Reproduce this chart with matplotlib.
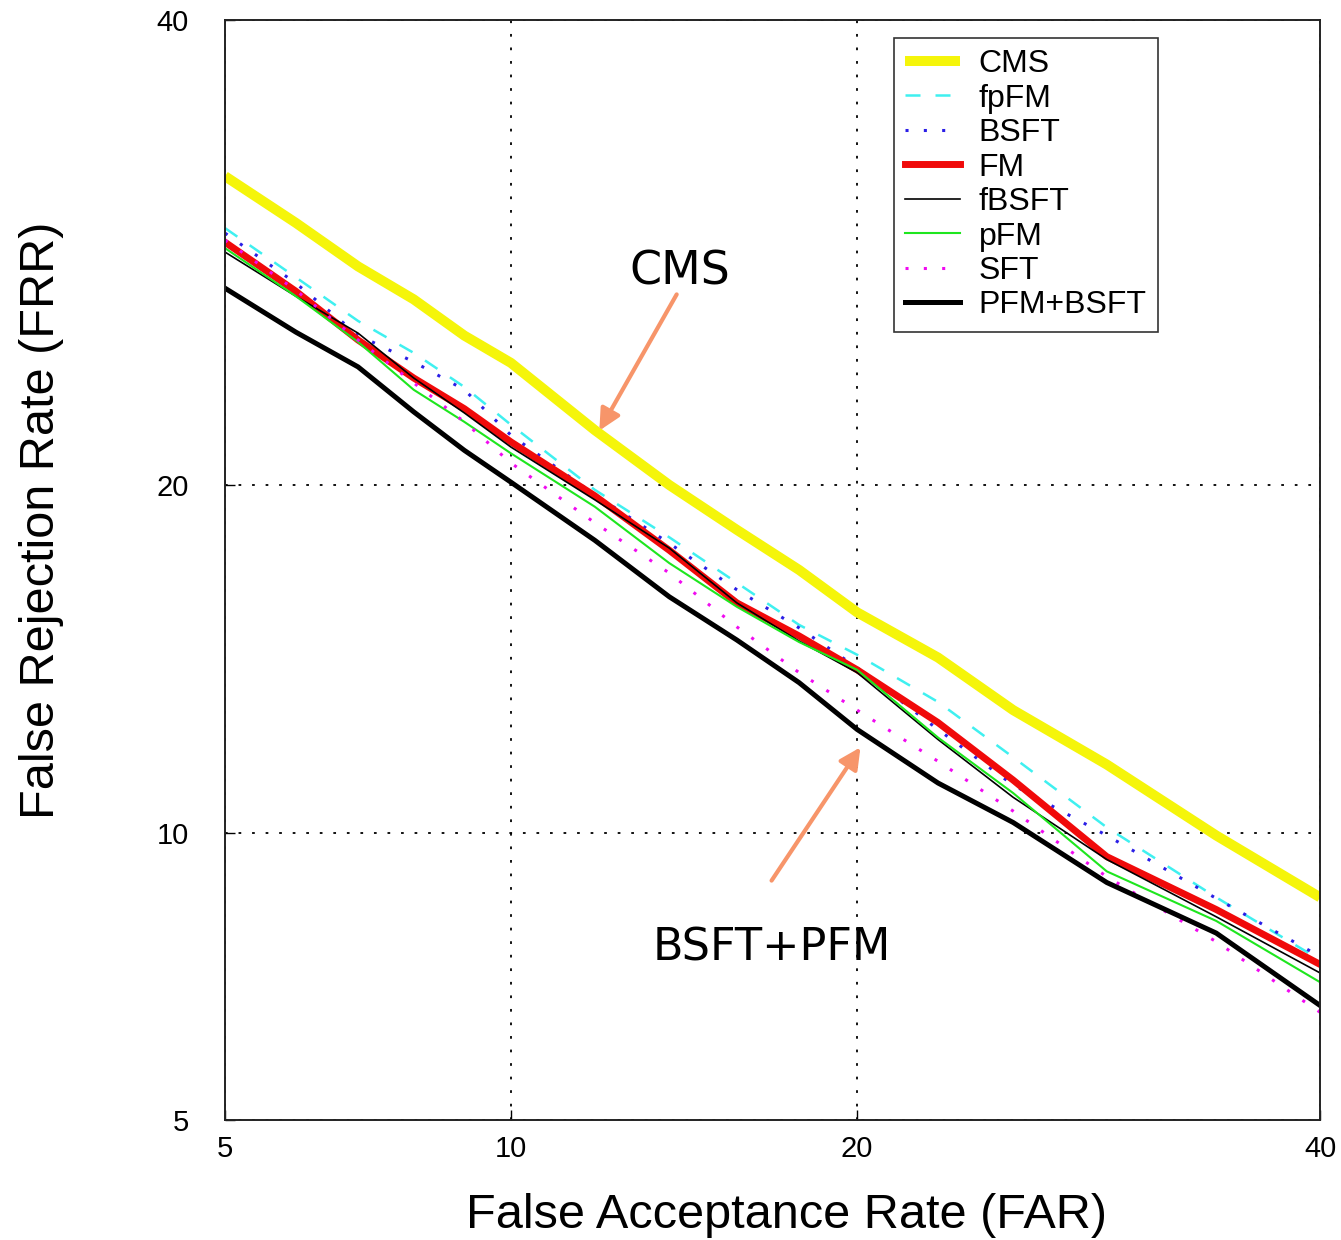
import math
import numpy as np
import matplotlib
matplotlib.use("Agg")
import matplotlib.pyplot as plt
from matplotlib.ticker import FixedLocator, NullLocator

# DET curves, values in percent
far = [5, 6, 7, 8, 9, 10, 12, 14, 16, 18, 20, 23, 26, 30, 35, 40]

cms      = [32.6, 30.5, 28.6, 27.2, 25.7, 24.6, 22.0, 20.0, 18.45, 17.13, 15.8, 14.46, 13.0, 11.6, 9.94, 8.64]
fpfm     = [30.27, 28.13, 26.3, 25.0, 23.65, 22.2, 19.83, 18.2, 16.72, 15.42, 14.54, 13.22, 11.78, 10.12, 8.64, 7.46]
bsft     = [30.05, 27.88, 25.72, 24.64, 23.54, 21.81, 19.66, 18.0, 16.5, 15.33, 14.17, 12.49, 11.1, 9.94, 8.62, 7.52]
fm       = [29.65, 27.54, 25.52, 24.0, 22.81, 21.56, 19.62, 17.77, 16.09, 15.09, 14.11, 12.67, 11.22, 9.48, 8.4, 7.38]
fbsft    = [29.22, 27.33, 25.8, 24.0, 22.65, 21.37, 19.48, 17.84, 16.09, 14.94, 14.03, 12.23, 10.81, 9.42, 8.26, 7.23]
pfm      = [29.39, 27.33, 25.44, 23.54, 22.31, 21.14, 19.24, 17.35, 15.97, 14.91, 14.11, 12.28, 10.91, 9.17, 8.18, 7.07]
sft      = [29.74, 27.58, 25.52, 23.81, 22.31, 20.79, 18.69, 17.03, 15.36, 14.03, 13.0, 11.68, 10.49, 9.06, 7.79, 6.57]
pfm_bsft = [27.67, 25.84, 24.44, 22.69, 21.25, 20.1, 18.1, 16.28, 14.97, 13.75, 12.49, 11.15, 10.23, 8.94, 7.95, 6.68]

ticks = [5, 10, 20, 40]
tick_labels = ["5", "10", "20", "40"]


# normal-deviate (probit) axis, as in a DET plot
A = [-3.969683028665376e+01, 2.209460984245205e+02, -2.759285104469687e+02,
     1.383577518672690e+02, -3.066479806614716e+01, 2.506628277459239e+00]
B = [-5.447609879822406e+01, 1.615858368580409e+02, -1.556989798598866e+02,
     6.680131188771972e+01, -1.328068155288572e+01]
C = [-7.784894002430293e-03, -3.223964580411365e-01, -2.400758277161838e+00,
     -2.549671010258739e+00, 4.374664141464968e+00, 2.938163982698783e+00]
D = [7.784695709041462e-03, 3.224671290700398e-01, 2.445134137142996e+00,
     3.754408661907416e+00]


def _tail(q):
    num = ((((C[0]*q + C[1])*q + C[2])*q + C[3])*q + C[4])*q + C[5]
    den = (((D[0]*q + D[1])*q + D[2])*q + D[3])*q + 1
    return num / den


def probit(pct):
    p = np.clip(np.asarray(pct, dtype=float) / 100.0, 1e-12, 1 - 1e-12)
    q = p - 0.5
    r = q * q
    mid = (((((A[0]*r + A[1])*r + A[2])*r + A[3])*r + A[4])*r + A[5]) * q / \
          (((((B[0]*r + B[1])*r + B[2])*r + B[3])*r + B[4])*r + 1)
    lo = _tail(np.sqrt(-2 * np.log(p)))
    hi = -_tail(np.sqrt(-2 * np.log(1 - p)))
    return np.where(p < 0.02425, lo, np.where(p > 1 - 0.02425, hi, mid))


_erf = np.vectorize(math.erf)


def inv_probit(z):
    z = np.asarray(z, dtype=float)
    return 50.0 * (1 + _erf(z / math.sqrt(2)))


plt.rcParams["font.family"] = ["Liberation Sans", "DejaVu Sans"]

fig = plt.figure(figsize=(13.41, 12.40), dpi=100)
ax = fig.add_axes([0.1678, 0.0968, 0.8166, 0.8871])
ax.set_xscale("function", functions=(probit, inv_probit))
ax.set_yscale("function", functions=(probit, inv_probit))

ax.plot(far, cms, color="#f5f50a", lw=7.2, solid_capstyle="butt", label="CMS")
ax.plot(far, fpfm, color="#3ff0f0", lw=1.8, dashes=(6, 6), label="fpFM")
ax.plot(far, bsft, color="#2a1ee6", lw=2.2, linestyle=(0, (1, 5)), label="BSFT")
ax.plot(far, fm, color="#f00a0a", lw=5.0, label="FM")
ax.plot(far, fbsft, color="black", lw=1.2, label="fBSFT")
ax.plot(far, pfm, color="#1ee61e", lw=1.5, label="pFM")
ax.plot(far, sft, color="#f00af0", lw=2.2, linestyle=(0, (1, 5)), label="SFT")
ax.plot(far, pfm_bsft, color="black", lw=3.6, label="PFM+BSFT")

ax.set_xlim(5, 40)
ax.set_ylim(5, 40)
for axis in (ax.xaxis, ax.yaxis):
    axis.set_major_locator(FixedLocator(ticks))
    axis.set_minor_locator(NullLocator())
ax.set_xticklabels(tick_labels)
ax.set_yticklabels(tick_labels)
ax.grid(True, color="black", lw=1.3, linestyle=(0, (1.5, 6)))
ax.tick_params(direction="in", length=7, width=1, labelsize=21, color="black")
ax.tick_params(axis="x", pad=11)
ax.tick_params(axis="y", pad=26)
for lab in ax.get_xticklabels() + ax.get_yticklabels():
    lab.set_family(["Liberation Sans Narrow", "Liberation Sans", "DejaVu Sans"])
for s in ax.spines.values():
    s.set_linewidth(1.4)
    s.set_color("#222222")

ax.set_xlabel("False Acceptance Rate (FAR)", fontsize=35)
ax.set_ylabel("False Rejection Rate (FRR)", fontsize=35)
ax.xaxis.set_label_coords(0.513, -0.066)
ax.yaxis.set_label_coords(-0.147, 0.545)

leg = ax.legend(loc="upper right", bbox_to_anchor=(0.852, 0.9836), borderaxespad=0,
                fontsize=23, frameon=True, fancybox=False, edgecolor="black",
                handlelength=1.7, handletextpad=0.6, labelspacing=0.14, borderpad=0.35)
leg.get_frame().set_linewidth(1.2)

arrow_col = "#f7956a"
ax.annotate("", xy=(0.3406, 0.6245), xytext=(0.4137, 0.7527), xycoords="axes fraction",
            arrowprops=dict(arrowstyle="-|>", color=arrow_col, lw=3, mutation_scale=32))
ax.text(0.4155, 0.7709, "CMS", transform=ax.transAxes, fontsize=33,
        ha="center", va="center", family="DejaVu Sans")
ax.annotate("", xy=(0.5817, 0.3409), xytext=(0.4977, 0.2155), xycoords="axes fraction",
            arrowprops=dict(arrowstyle="-|>", color=arrow_col, lw=3, mutation_scale=32))
ax.text(0.4995, 0.1564, "BSFT+PFM", transform=ax.transAxes, fontsize=32,
        ha="center", va="center", family="DejaVu Sans")

fig.savefig("out.png", dpi=100)
